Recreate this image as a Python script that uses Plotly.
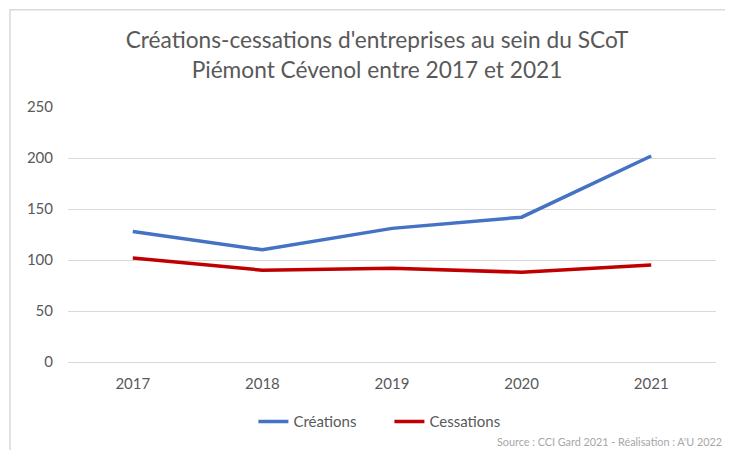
import plotly.graph_objects as go

years = ["2017", "2018", "2019", "2020", "2021"]
creations = [128, 110, 131, 142, 202]
cessations = [102, 90, 92, 88, 95]
y_ticks = [0, 50, 100, 150, 200, 250]

title_text = "Créations-cessations d'entreprises au sein du SCoT<br>Piémont Cévenol entre 2017 et 2021"
source_text = "Source : CCI Gard 2021 - Réalisation : A'U 2022"

FONT = "Lato, 'Open Sans', sans-serif"

fig = go.Figure()
fig.add_trace(go.Scatter(x=years, y=creations, mode="lines", name="Créations",
                         line=dict(color="#4472C4", width=3.5)))
fig.add_trace(go.Scatter(x=years, y=cessations, mode="lines", name="Cessations",
                         line=dict(color="#C00000", width=3.5)))

fig.update_layout(
    width=725, height=442,
    paper_bgcolor="white", plot_bgcolor="white",
    margin=dict(l=60, r=17, t=99, b=86),
    font=dict(family=FONT, color="#595959", size=15),
    title=dict(text=title_text, x=0.509, xanchor="center", y=0.909, yanchor="top",
               font=dict(family=FONT, size=22.7, color="#595959")),
    xaxis=dict(type="category", range=[-0.5, 4.5], showgrid=False, showline=False,
               ticks="", ticklabelstandoff=11, tickfont=dict(size=15, color="#595959")),
    yaxis=dict(range=[0, 250], tickvals=y_ticks, showgrid=True, gridcolor="#D9D9D9",
               gridwidth=1, zeroline=True, zerolinecolor="#D9D9D9", zerolinewidth=1,
               showline=False, ticks="", ticklabelstandoff=14,
               tickfont=dict(size=15, color="#595959")),
    legend=dict(orientation="h", x=0.496, xanchor="center", y=-0.17, yanchor="top",
                font=dict(size=15, color="#595959"), itemwidth=30,
                entrywidth=91, traceorder="normal"),
    showlegend=True,
)

fig.add_shape(type="rect", xref="paper", yref="paper",
              x0=-0.0895, x1=1.0185, y0=-0.5, y1=1.381,
              line=dict(color="#D9D9D9", width=1.5), layer="below")

fig.add_annotation(text=source_text, xref="paper", yref="paper",
                   x=1.013, y=-0.311, xanchor="right", yanchor="middle", showarrow=False,
                   font=dict(family=FONT, size=10.8, color="#A6A6A6"))

fig.write_html("out.html")
